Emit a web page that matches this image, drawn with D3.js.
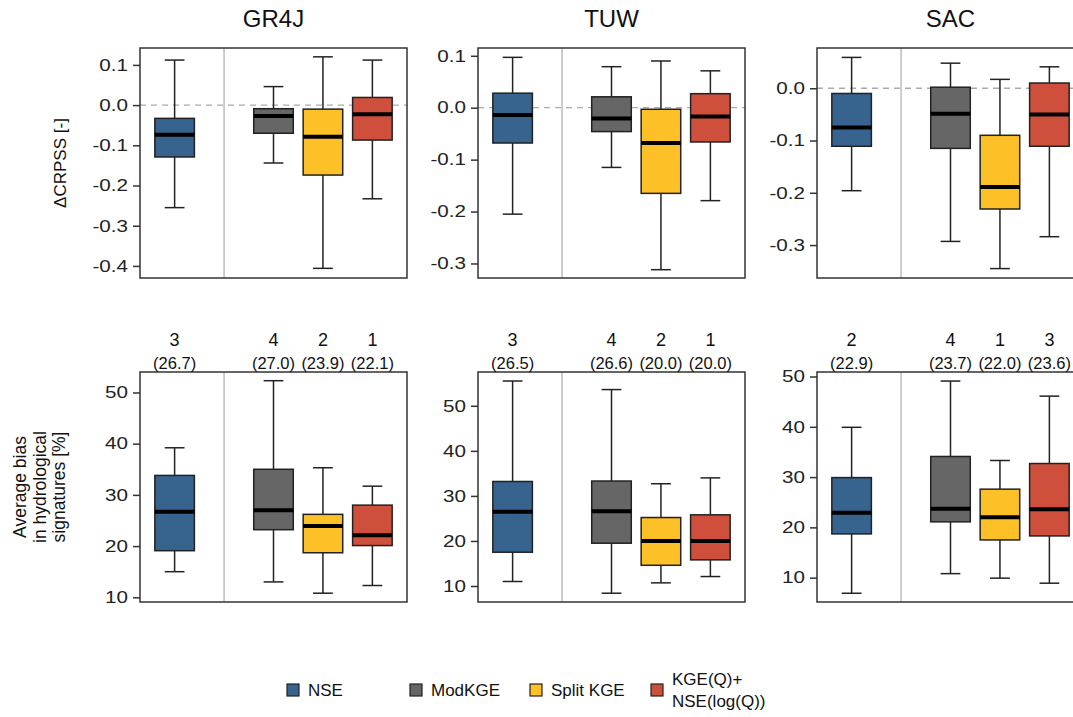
<!DOCTYPE html>
<html>
<head>
<meta charset="utf-8">
<script src="https://cdn.jsdelivr.net/npm/d3@7"></script>
<style>
  body { margin: 0; background: #fff; }
  svg { font-family: "Liberation Sans", Arial, sans-serif; }
</style>
</head>
<body>
<div id="chart"></div>
<script>
// Models (columns) and calibration methods (boxes)
var models = ["GR4J", "TUW", "SAC"];
var methods = ["NSE", "ModKGE", "Split KGE", "KGE(Q)+\nNSE(log(Q))"];
var methodColors = ["#36648f", "#666666", "#fdc026", "#ce4f3b"];
var boxPositions = [1, 3, 4, 5];

// [whisker low, q1, median, q3, whisker high] per method
var crpssGR4J = [[-0.255, -0.129, -0.074, -0.033, 0.112], [-0.144, -0.070, -0.027, -0.009, 0.046], [-0.406, -0.174, -0.079, -0.010, 0.120], [-0.233, -0.087, -0.023, 0.019, 0.112]];
var crpssTUW = [[-0.205, -0.068, -0.014, 0.028, 0.097], [-0.115, -0.046, -0.021, 0.021, 0.079], [-0.312, -0.165, -0.068, -0.003, 0.090], [-0.179, -0.066, -0.017, 0.027, 0.071]];
var crpssSAC = [[-0.196, -0.111, -0.075, -0.010, 0.059], [-0.293, -0.115, -0.049, 0.002, 0.048], [-0.345, -0.231, -0.189, -0.090, 0.017], [-0.284, -0.111, -0.050, 0.010, 0.041]];

var biasGR4J = [[15.0, 19.1, 26.7, 33.8, 39.2], [13.0, 23.2, 27.0, 35.0, 52.3], [10.8, 18.7, 23.9, 26.2, 35.3], [12.3, 20.1, 22.1, 28.0, 31.7]];
var biasTUW = [[11.0, 17.5, 26.5, 33.2, 55.5], [8.4, 19.5, 26.6, 33.3, 53.6], [10.7, 14.6, 20.0, 25.2, 32.7], [12.1, 15.8, 20.0, 25.8, 34.0]];
var biasSAC = [[6.9, 18.7, 22.9, 29.9, 39.9], [10.8, 21.1, 23.7, 34.1, 49.1], [9.9, 17.5, 22.0, 27.6, 33.3], [8.9, 18.3, 23.6, 32.7, 46.1]];

// Ranks of median bias shown above the lower panels
var biasRanks = [[3, 4, 2, 1], [3, 4, 2, 1], [2, 4, 1, 3]];

// Axis limits and ticks
var crpssLimits = [[-0.43, 0.142], [-0.328, 0.115], [-0.363, 0.077]];
var crpssTicks = [[0.1, 0, -0.1, -0.2, -0.3, -0.4], [0.1, 0, -0.1, -0.2, -0.3], [0, -0.1, -0.2, -0.3]];
var biasLimits = [[9.08, 54.0], [6.45, 57.5], [5.16, 50.9]];
var biasTicks = [[10, 20, 30, 40, 50], [10, 20, 30, 40, 50], [10, 20, 30, 40, 50]];

var crpssData = [crpssGR4J, crpssTUW, crpssSAC];
var biasData = [biasGR4J, biasTUW, biasSAC];

// Layout
var W = 1073, H = 717;
var panelLeft = [140, 478, 817];
var panelWidth = 267;
var rows = [{top: 48, bottom: 278}, {top: 372, bottom: 602}];
var boxWidth = 0.8;
var tickStretch = 1.25; // tick labels in the original are rendered wide

var svg = d3.select("#chart").append("svg")
  .attr("width", W)
  .attr("height", H);

function drawPanel(i, row, stats, limits, ticks, fmt, zeroLine) {
  var x = d3.scaleLinear().domain([0.3, 5.7]).range([panelLeft[i], panelLeft[i] + panelWidth]);
  var y = d3.scaleLinear().domain(limits).range([rows[row].bottom, rows[row].top]);
  var g = svg.append("g");

  // separator between NSE and the rest
  g.append("line")
    .attr("x1", x(2)).attr("x2", x(2))
    .attr("y1", y.range()[0]).attr("y2", y.range()[1])
    .attr("stroke", "#b3b3b3").attr("stroke-width", 1.3);

  if (zeroLine) {
    g.append("line")
      .attr("x1", x.range()[0]).attr("x2", x.range()[1])
      .attr("y1", y(0)).attr("y2", y(0))
      .attr("stroke", "#aaaaaa").attr("stroke-width", 1.3)
      .attr("stroke-dasharray", "6,5");
  }

  var box = g.selectAll(".box")
    .data(stats)
    .enter().append("g")
    .attr("class", "box");

  // whiskers
  box.append("line")
    .attr("x1", function(d, j) { return x(boxPositions[j]); })
    .attr("x2", function(d, j) { return x(boxPositions[j]); })
    .attr("y1", function(d) { return y(d[0]); })
    .attr("y2", function(d) { return y(d[4]); })
    .attr("stroke", "#222").attr("stroke-width", 1.5);

  [0, 4].forEach(function(k) {
    box.append("line")
      .attr("x1", function(d, j) { return x(boxPositions[j] - boxWidth / 4); })
      .attr("x2", function(d, j) { return x(boxPositions[j] + boxWidth / 4); })
      .attr("y1", function(d) { return y(d[k]); })
      .attr("y2", function(d) { return y(d[k]); })
      .attr("stroke", "#222").attr("stroke-width", 1.5);
  });

  box.append("rect")
    .attr("x", function(d, j) { return x(boxPositions[j] - boxWidth / 2); })
    .attr("width", x(boxWidth) - x(0))
    .attr("y", function(d) { return y(d[3]); })
    .attr("height", function(d) { return y(d[1]) - y(d[3]); })
    .attr("fill", function(d, j) { return methodColors[j]; })
    .attr("stroke", "#222").attr("stroke-width", 1.5);

  // medians
  box.append("line")
    .attr("x1", function(d, j) { return x(boxPositions[j] - boxWidth / 2); })
    .attr("x2", function(d, j) { return x(boxPositions[j] + boxWidth / 2); })
    .attr("y1", function(d) { return y(d[2]); })
    .attr("y2", function(d) { return y(d[2]); })
    .attr("stroke", "#000").attr("stroke-width", 4);

  // frame
  g.append("rect")
    .attr("x", x.range()[0]).attr("y", y.range()[1])
    .attr("width", panelWidth).attr("height", y.range()[0] - y.range()[1])
    .attr("fill", "none").attr("stroke", "#333").attr("stroke-width", 1.5);

  // y axis
  var ax = g.append("g")
    .attr("transform", "translate(" + x.range()[0] + ",0)")
    .call(d3.axisLeft(y).tickValues(ticks).tickSize(7).tickPadding(5).tickFormat(fmt));
  ax.select(".domain").remove();
  ax.selectAll(".tick line").attr("stroke", "#333").attr("stroke-width", 1.5);
  ax.selectAll(".tick text")
    .attr("font-size", 16.5).attr("fill", "#222")
    .attr("x", -12 / tickStretch)
    .attr("transform", "scale(" + tickStretch + ",1)")
    .style("font-family", "Liberation Sans, Arial, sans-serif");

  return x;
}

models.forEach(function(m, i) {
  drawPanel(i, 0, crpssData[i], crpssLimits[i], crpssTicks[i], function(d) { return d.toFixed(1); }, true);
  var x = drawPanel(i, 1, biasData[i], biasLimits[i], biasTicks[i], function(d) { return d; }, false);

  // model title
  svg.append("text")
    .attr("x", panelLeft[i] + panelWidth / 2)
    .attr("y", 27)
    .attr("text-anchor", "middle")
    .attr("font-size", 24)
    .attr("fill", "#111")
    .text(m);

  // rank and median labels
  biasData[i].forEach(function(d, j) {
    svg.append("text")
      .attr("x", x(boxPositions[j])).attr("y", 345.5)
      .attr("text-anchor", "middle")
      .attr("font-size", 18).attr("fill", "#111")
      .text(biasRanks[i][j]);
    svg.append("text")
      .attr("x", x(boxPositions[j])).attr("y", 369)
      .attr("text-anchor", "middle")
      .attr("font-size", 16.5).attr("fill", "#111")
      .text("(" + d[2].toFixed(1) + ")");
  });
});

// y labels
svg.append("text")
  .attr("transform", "translate(66,163) rotate(-90)")
  .attr("text-anchor", "middle")
  .attr("font-size", 17).attr("fill", "#111")
  .text("\u0394CRPSS [-]");

var biasLabel = svg.append("text")
  .attr("transform", "translate(26,487) rotate(-90)")
  .attr("text-anchor", "middle")
  .attr("font-size", 17.5).attr("fill", "#111");
["Average bias", "in hydrological", "signatures [%]"].forEach(function(t, k) {
  biasLabel.append("tspan").attr("x", 0).attr("dy", k === 0 ? 0 : 19.5).text(t);
});

// legend
var legendX = [293, 416, 536, 657];
var legend = svg.selectAll(".legend")
  .data(methods)
  .enter().append("g")
  .attr("class", "legend")
  .attr("transform", function(d, j) { return "translate(" + legendX[j] + ",690)"; });

legend.append("rect")
  .attr("x", -6).attr("y", -6)
  .attr("width", 12).attr("height", 12)
  .attr("fill", function(d, j) { return methodColors[j]; })
  .attr("stroke", "#222").attr("stroke-width", 1.2);

legend.append("text")
  .attr("x", 15)
  .attr("font-size", 17).attr("fill", "#111")
  .each(function(d) {
    var lines = d.split("\n");
    var t = d3.select(this);
    lines.forEach(function(l, k) {
      t.append("tspan")
        .attr("x", 15)
        .attr("y", (k - (lines.length - 1) / 2) * 22)
        .attr("dy", "0.35em")
        .text(l);
    });
  });
</script>
</body>
</html>
